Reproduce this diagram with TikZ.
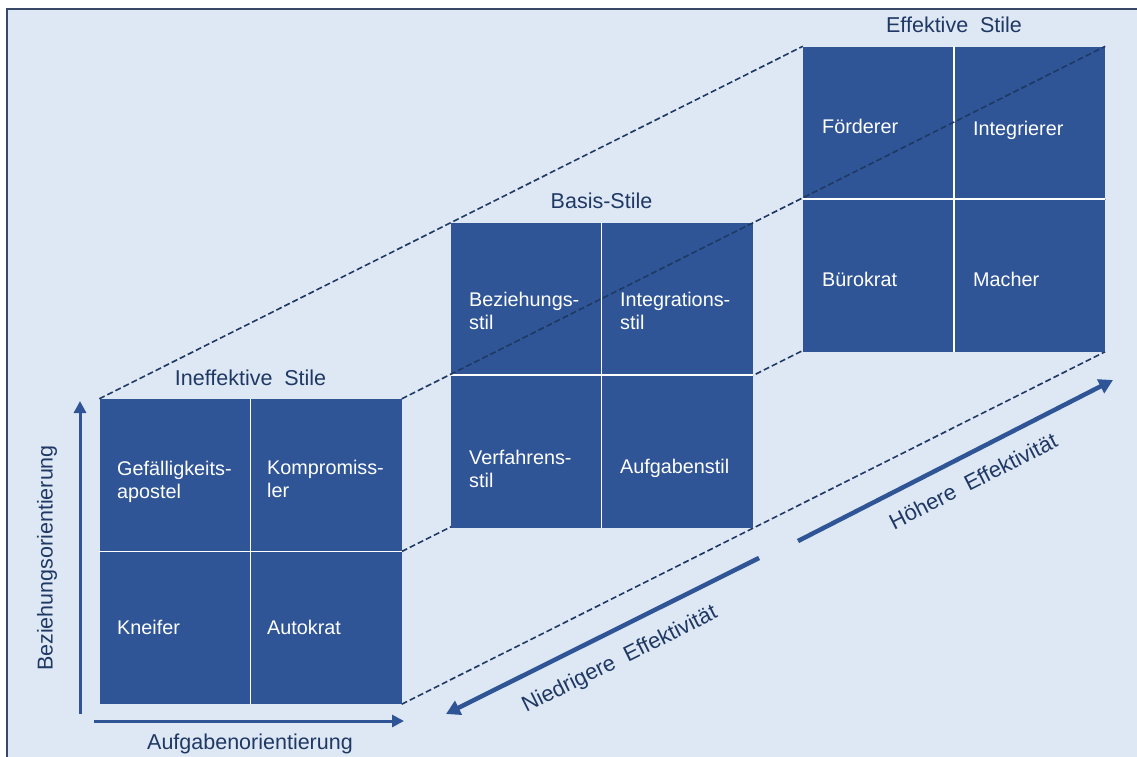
\documentclass[tikz,border=0pt]{standalone}
\usepackage{fontspec}
\setmainfont{Liberation Sans}
\usetikzlibrary{positioning,arrows.meta}

\definecolor{boxblue}{HTML}{2F5597}
\definecolor{navy}{HTML}{1F3864}
\definecolor{bgblue}{HTML}{DEE8F4}
\definecolor{framegray}{HTML}{3A4868}

\pgfdeclarelayer{bg}
\pgfdeclarelayer{back}
\pgfsetlayers{bg,back,main}

\tikzset{
  stylebox/.style={rectangle, fill=boxblue, minimum width=302pt, minimum height=305pt, inner sep=0pt},
  celltext/.style={anchor=west, inner sep=0pt, text=white, align=left, font=\fontsize{19.8}{23}\selectfont},
  title/.style={inner sep=0pt, text=navy, font=\fontsize{21.5}{26}\selectfont,
    execute at begin node={\spaceskip=0.55em\relax}},
  guide/.style={navy, line width=1.6pt, dash pattern=on 6pt off 3pt},
  axis/.style={boxblue, line width=3pt, -{Triangle[length=12pt,width=12pt]}},
  trend/.style={boxblue, line width=4.5pt, -{Triangle[length=14pt,width=15pt]}},
}

\begin{document}
\begin{tikzpicture}[x=1pt, y=-1pt]
    \clip (0,0) rectangle (1137,756);
    \begin{pgfonlayer}{bg}
        \fill[white] (0,0) rectangle (1137,756);
        \filldraw[fill=bgblue, draw=framegray, line width=1.5pt] (7,9) rectangle (1150,770);
    \end{pgfonlayer}

    % the three grids
    \node[stylebox] (ineff) at (250.5,551.5) {};
    \node[stylebox] (basis) at (601.5,375) {};
    \node[stylebox] (eff) at (954,199) {};
    \foreach \b in {ineff,basis,eff}
        \draw[white, line width=1.5pt] (\b.north)--(\b.south) (\b.west)--(\b.east);

    \node[title, above=13pt of ineff] (ineffT) {Ineffektive Stile};
    \node[title, above=13pt of basis] (basisT) {Basis-Stile};
    \node[title, above=13pt of eff] (effT) {Effektive Stile};

    % dashed guides
    \begin{pgfonlayer}{back}
        \draw[guide] (ineff.north west)--(eff.north west);
        \draw[guide] (ineff.east)--(eff.east);
        \draw[guide] (ineff.south east)--(eff.south east);
    \end{pgfonlayer}
    \draw[guide] (ineff.north east)--(eff.north east);

    \node[celltext] (gef) at (117,481.5) {Gefälligkeits-\\apostel};
    \node[celltext] (komp) at (267,479.4) {Kompromiss-\\ler};
    \node[celltext] (kneif) at (117,627) {Kneifer};
    \node[celltext] (autok) at (267,627) {Autokrat};

    \node[celltext] (bez) at (469,311.4) {Beziehungs-\\stil};
    \node[celltext] (integ) at (620,311.4) {Integrations-\\stil};
    \node[celltext] (verf) at (469,469.4) {Verfahrens-\\stil};
    \node[celltext] (aufg) at (620,468) {Aufgabenstil};

    \node[celltext] (foerd) at (822,126.3) {Förderer};
    \node[celltext] (integr) at (973,130) {Integrierer};
    \node[celltext] (buero) at (822,279) {Bürokrat};
    \node[celltext] (mach) at (973,279) {Macher};

    % axes
    \coordinate (yfoot) at (80,714);
    \coordinate (ytip) at (80,401);
    \coordinate (xfoot) at (94,721);
    \coordinate (xtip) at (404,721);
    \draw[axis] (yfoot)--(ytip);
    \draw[axis] (xfoot)--(xtip);
    \node[title, rotate=90] (ylab) at (47,558) {Beziehungsorientierung};
    \node[title] (xlab) at (250,744) {Aufgabenorientierung};

    % effectiveness arrows
    \coordinate (lowA) at (759,558);
    \coordinate (lowB) at (446,714);
    \coordinate (highA) at (798,541);
    \coordinate (highB) at (1113,380);
    \draw[trend] (lowA)--(lowB);
    \draw[trend] (highA)--(highB);
    \node[title, font=\fontsize{22}{26}\selectfont, rotate=26.5] (lowL) at (620,660) {Niedrigere Effektivität};
    \node[title, font=\fontsize{22}{26}\selectfont, rotate=27] (highL) at (973,481) {Höhere Effektivität};
\end{tikzpicture}
\end{document}
